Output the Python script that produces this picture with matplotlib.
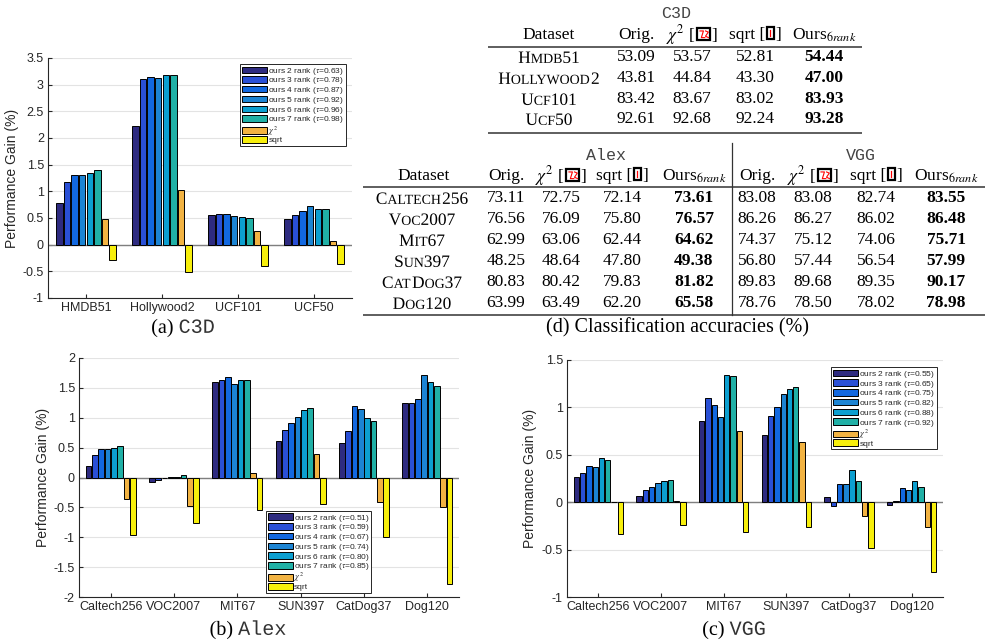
import matplotlib
matplotlib.use('Agg')
import matplotlib.pyplot as plt
import numpy as np
from matplotlib.offsetbox import TextArea, HPacker, AnnotationBbox, DrawingArea
from matplotlib.patches import Rectangle, PathPatch
from matplotlib.lines import Line2D
from matplotlib.font_manager import FontProperties, findfont, get_font
from matplotlib.textpath import TextPath
from matplotlib.transforms import Affine2D
try:
    from matplotlib.ft2font import LoadFlags
    NOHINT = LoadFlags.NO_HINTING
except ImportError:
    from matplotlib.ft2font import LOAD_NO_HINTING as NOHINT

plt.rcParams['axes.unicode_minus'] = False
plt.rcParams['mathtext.fontset'] = 'stix'
plt.rcParams['font.family'] = ['Liberation Sans', 'DejaVu Sans']

# ---------------- data ----------------
series_names = ['ours 2 rank', 'ours 3 rank', 'ours 4 rank', 'ours 5 rank',
                'ours 6 rank', 'ours 7 rank']
bar_colors = ['#2e2b80', '#2a50d6', '#1268e0', '#1c84d3', '#0c9fd0', '#20b0a6',
              '#f2b342', '#f7ef0c']

# (a) C3D
c3d_datasets = ['HMDB51', 'Hollywood2', 'UCF101', 'UCF50']
c3d_tau = [0.63, 0.78, 0.87, 0.92, 0.96, 0.98]
c3d_r2 = [0.79, 2.23, 0.56, 0.48]
c3d_r3 = [1.17, 3.10, 0.57, 0.56]
c3d_r4 = [1.31, 3.14, 0.57, 0.63]
c3d_r5 = [1.31, 3.12, 0.53, 0.72]
c3d_r6 = [1.35, 3.19, 0.51, 0.67]
c3d_r7 = [1.40, 3.19, 0.50, 0.67]
c3d_chi2 = [0.48, 1.03, 0.25, 0.07]
c3d_sqrt = [-0.28, -0.51, -0.40, -0.37]

# (b) Alex
img_datasets = ['Caltech256', 'VOC2007', 'MIT67', 'SUN397', 'CatDog37', 'Dog120']
alex_tau = [0.51, 0.59, 0.67, 0.74, 0.80, 0.85]
alex_r2 = [0.19, -0.08, 1.60, 0.61, 0.58, 1.24]
alex_r3 = [0.37, -0.04, 1.64, 0.79, 0.77, 1.25]
alex_r4 = [0.47, 0.00, 1.68, 0.92, 1.20, 1.32]
alex_r5 = [0.48, 0.01, 1.56, 1.02, 1.14, 1.72]
alex_r6 = [0.50, 0.01, 1.63, 1.13, 0.99, 1.59]
alex_r7 = [0.53, 0.04, 1.64, 1.17, 0.95, 1.53]
alex_chi2 = [-0.36, -0.47, 0.07, 0.39, -0.41, -0.50]
alex_sqrt = [-0.97, -0.76, -0.55, -0.45, -1.00, -1.79]

# (c) VGG
vgg_tau = [0.55, 0.65, 0.75, 0.82, 0.88, 0.92]
vgg_r2 = [0.27, 0.07, 0.86, 0.71, 0.05, -0.03]
vgg_r3 = [0.31, 0.13, 1.10, 0.91, -0.04, 0.01]
vgg_r4 = [0.38, 0.16, 1.03, 1.00, 0.19, 0.15]
vgg_r5 = [0.37, 0.20, 0.90, 1.14, 0.19, 0.13]
vgg_r6 = [0.47, 0.22, 1.34, 1.19, 0.34, 0.22]
vgg_r7 = [0.44, 0.235, 1.33, 1.22, 0.22, 0.16]
vgg_chi2 = [0.00, 0.01, 0.75, 0.64, -0.15, -0.26]
vgg_sqrt = [-0.34, -0.24, -0.31, -0.26, -0.48, -0.74]

# (d) tables
c3d_tab_names = ['Hmdb51', 'Hollywood2', 'Ucf101', 'Ucf50']
c3d_orig = [53.09, 43.81, 83.42, 92.61]
c3d_chi = [53.57, 44.84, 83.67, 92.68]
c3d_sq = [52.81, 43.30, 83.02, 92.24]
c3d_ours = [54.44, 47.00, 83.93, 93.28]

img_tab_names = ['Caltech256', 'Voc2007', 'Mit67', 'Sun397', 'CatDog37', 'Dog120']
alex_orig = [73.11, 76.56, 62.99, 48.25, 80.83, 63.99]
alex_chi = [72.75, 76.09, 63.06, 48.64, 80.42, 63.49]
alex_sq = [72.14, 75.80, 62.44, 47.80, 79.83, 62.20]
alex_ours = [73.61, 76.57, 64.62, 49.38, 81.82, 65.58]
vgg_orig = [83.08, 86.26, 74.37, 56.80, 89.83, 78.76]
vgg_chi = [83.08, 86.27, 75.12, 57.44, 89.68, 78.50]
vgg_sq = [82.74, 86.02, 74.06, 56.54, 89.35, 78.02]
vgg_ours = [83.55, 86.48, 75.71, 57.99, 90.17, 78.98]

# ---------------- figure ----------------
W, H = 989, 641
fig = plt.figure(figsize=(W / 100, H / 100), dpi=100)

AX_COL = '#262626'


def px_axes(l, t, r, b):
    return fig.add_axes([l / W, 1 - b / H, (r - l) / W, (b - t) / H])


def bar_chart(ax, cats, series, taus, ylim, leg_loc, leg_anchor, ylab_x):
    n = len(cats)
    x = np.arange(1, n + 1)
    labels = [f'{s} ($\\tau$={t:.2f})' for s, t in zip(series_names, taus)] + \
             ['$\\chi^2$', 'sqrt']
    for i, vals in enumerate(series):
        ax.bar(x + (i - 3.5) * 0.1, vals, width=0.085, color=bar_colors[i],
               edgecolor='black', linewidth=0.7, zorder=3, label=labels[i])
    ax.axhline(0, color='#7f7f7f', lw=1.0, zorder=2.5)
    ax.set_xlim(0.5, n + 0.5)
    ax.set_ylim(*ylim)
    yt = np.arange(ylim[0], ylim[1] + 0.001, 0.5)
    ax.set_yticks(yt)
    ax.set_yticklabels([f'{v:g}' for v in yt])
    ax.set_xticks(x)
    ax.set_xticklabels(cats)
    for s in ['top', 'right']:
        ax.spines[s].set_visible(False)
    for s in ['left', 'bottom']:
        ax.spines[s].set_color(AX_COL)
        ax.spines[s].set_linewidth(0.8)
    ax.tick_params(direction='in', length=3, width=0.8, color=AX_COL,
                   labelsize=9, labelcolor=AX_COL, pad=3)
    ax.yaxis.grid(True, color='#e3e3e3', lw=0.8)
    ax.set_axisbelow(True)
    ax.set_ylabel('Performance Gain (%)', fontsize=10, color=AX_COL)
    ax.yaxis.set_label_coords(ylab_x, 0.5)
    leg = ax.legend(loc=leg_loc, bbox_to_anchor=leg_anchor, borderaxespad=0,
                    prop={'family': 'Liberation Sans', 'size': 6.0},
                    handlelength=3.0, handleheight=0.8, handletextpad=0.15,
                    labelspacing=-0.15, borderpad=0.2, fancybox=False,
                    framealpha=1, edgecolor=AX_COL)
    leg.get_frame().set_linewidth(0.7)
    for t in leg.get_texts():
        t.set_color(AX_COL)


axa = px_axes(48, 58, 352, 298)
bar_chart(axa, c3d_datasets,
          [c3d_r2, c3d_r3, c3d_r4, c3d_r5, c3d_r6, c3d_r7, c3d_chi2, c3d_sqrt],
          c3d_tau, (-1, 3.5), 'upper right', (0.980, 0.975), -0.097)

axb = px_axes(79, 358, 459, 597)
bar_chart(axb, img_datasets,
          [alex_r2, alex_r3, alex_r4, alex_r5, alex_r6, alex_r7, alex_chi2, alex_sqrt],
          alex_tau, (-2, 2), 'lower left', (0.492, 0.017), -0.076)

axc = px_axes(567, 360, 943, 597)
bar_chart(axc, img_datasets,
          [vgg_r2, vgg_r3, vgg_r4, vgg_r5, vgg_r6, vgg_r7, vgg_chi2, vgg_sqrt],
          vgg_tau, (-1, 1.5), 'upper right', (0.984, 0.970), -0.080)

# ---------------- overlay for tables / captions ----------------
ov = fig.add_axes([0, 0, 1, 1])
ov.axis('off')
ov.set_xlim(0, W)
ov.set_ylim(H, 0)

SERIF = 'Liberation Serif'
MONO = 'Liberation Mono'
renderer = fig.canvas.get_renderer()


def ink_w(s, size, family=SERIF):
    fp = FontProperties(family=family, size=size)
    w, _, _ = renderer.get_text_width_height_descent(s, fp, ismath=False)
    return w


def raw_adv(s, size, family=SERIF):
    fp = FontProperties(family=family, size=size)
    font = get_font(findfont(fp))
    font.set_size(size, 100)
    tot = 0.0
    for ch in s:
        g = font.load_char(ord(ch), flags=NOHINT)
        tot += g.linearHoriAdvance / 65536.0
    return tot


# calibrate units of the glyph advance against rendered widths
_ref = 'HHHHHHHHHH'
_ratio = ink_w(_ref, 20) / raw_adv(_ref, 20)
ADV_SCALE = 0.125 if _ratio < 0.4 else 1.0


def advance(s, size, family=SERIF):
    return raw_adv(s, size, family) * ADV_SCALE


def path_text(s, x, base, size, family, color):
    size_px = size * 100 / 72
    tp = TextPath((0, 0), s, size=size_px, prop=FontProperties(family=family))
    tr = Affine2D().scale(1, -1).translate(x, base) + ov.transData
    ov.add_patch(PathPatch(tp, transform=tr, facecolor=color, edgecolor='none',
                           lw=0))


def run_text(runs, cx, cy, size):
    widths = [advance(s, sz, fam) for s, sz, fam, _ in runs]
    x = cx - sum(widths) / 2
    base = cy + 0.34 * size * 100 / 72
    for (s, sz, fam, col), w in zip(runs, widths):
        path_text(s, x, base, sz, fam, col)
        x += w


def smallcaps(name, cx, cy, size):
    runs = []
    for ch in name:
        kind = 'small' if ch.islower() else 'big'
        c = ch.upper()
        if runs and runs[-1][0] == kind:
            runs[-1][1] += c
        else:
            runs.append([kind, c])
    run_text([(s, size if k == 'big' else size * 0.8, SERIF, 'black')
              for k, s in runs], cx, cy, size)


def place(children, x, y, align=(0.5, 0.5)):
    pk = HPacker(children=children, align='baseline', pad=0, sep=0)
    ab = AnnotationBbox(pk, (x, y), xycoords='data', frameon=False,
                        box_alignment=align, pad=0)
    ov.add_artist(ab)


def ta(s, size, family=SERIF, weight='normal', color='black'):
    return TextArea(s, textprops=dict(family=family, size=size, weight=weight,
                                      color=color))


def ref_box(wide):
    w = 9.5 if wide else 5.0
    h = 8.6
    da = DrawingArea(w + 2, h, 0, 0.5)
    da.add_artist(Rectangle((1, 0), w, h, facecolor='white', edgecolor='black',
                            lw=1.6))
    if wide:
        da.add_artist(Line2D([3.0, 5.5, 4.0, 6.5], [6.8, 6.8, 2.0, 2.0],
                             color='red', lw=0.8))
        da.add_artist(Line2D([7.0, 9.0, 7.0, 9.2], [6.8, 6.0, 3.0, 2.0],
                             color='red', lw=0.8))
    else:
        da.add_artist(Line2D([3.5, 3.5], [2.0, 6.8], color='red', lw=0.9))
    return da


def header(xs, y, size):
    place([ta('Orig.', size)], xs[0], y)
    place([ta('$\\chi^2$ [', size), ref_box(True), ta(']', size)], xs[1], y)
    place([ta('sqrt [', size), ref_box(False), ta(']', size)], xs[2], y)
    place([ta('Ours$_{\\mathit{6rank}}$', size)], xs[3], y)


def hline(x0, x1, y, lw=1.1):
    ov.plot([x0, x1], [y, y], color='#333333', lw=lw, solid_capstyle='butt')


FS = 12.5

# top table (C3D)
ov.text(676, 13, 'C3D', family=MONO, fontsize=12, color='#444444',
        ha='center', va='center')
top_cols = [636, 692, 755, 824]
place([ta('Dataset', FS)], 549, 35)
header(top_cols, 35, FS)
hline(488, 862, 47)
top_rows = [57, 78, 99, 119]
for i, nm in enumerate(c3d_tab_names):
    y = top_rows[i]
    smallcaps(nm, 549, y, FS)
    for c, vals, wt in zip(top_cols, [c3d_orig, c3d_chi, c3d_sq, c3d_ours],
                           ['normal', 'normal', 'normal', 'bold']):
        ov.text(c, y, f'{vals[i]:.2f}', family=SERIF, fontsize=FS, weight=wt,
                ha='center', va='center')
hline(488, 862, 133)

# bottom table (Alex | VGG)
ov.text(606, 155, 'Alex', family=MONO, fontsize=12, color='#444444',
        ha='center', va='center')
ov.text(861, 155, 'VGG', family=MONO, fontsize=12, color='#444444',
        ha='center', va='center')
alex_cols = [506, 561, 622, 694]
vgg_cols = [757, 813, 876, 946]
place([ta('Dataset', FS)], 424, 176)
header(alex_cols, 176, FS)
header(vgg_cols, 176, FS)
hline(363, 985, 187)
bot_rows = [198, 219, 240, 261, 282, 303]
for i, nm in enumerate(img_tab_names):
    y = bot_rows[i]
    smallcaps(nm, 422, y, FS)
    for cols, groups in [(alex_cols, [alex_orig, alex_chi, alex_sq, alex_ours]),
                         (vgg_cols, [vgg_orig, vgg_chi, vgg_sq, vgg_ours])]:
        for j, (c, vals) in enumerate(zip(cols, groups)):
            ov.text(c, y, f'{vals[i]:.2f}', family=SERIF, fontsize=FS,
                    weight='bold' if j == 3 else 'normal',
                    ha='center', va='center')
hline(363, 985, 315)
ov.plot([732, 732], [143, 315], color='#333333', lw=0.9)

# captions
CS = 14.5
run_text([('(a) ', CS, SERIF, 'black'), ('C3D', CS, MONO, '#333333')], 183, 326, CS)
run_text([('(b) ', CS, SERIF, 'black'), ('Alex', CS, MONO, '#333333')], 248, 628, CS)
run_text([('(c) ', CS, SERIF, 'black'), ('VGG', CS, MONO, '#333333')], 734, 628, CS)
ov.text(677, 328, '(d) Classification accuracies (%)', family=SERIF,
        fontsize=CS, ha='center', va='center')

fig.savefig('out.png', dpi=100)
